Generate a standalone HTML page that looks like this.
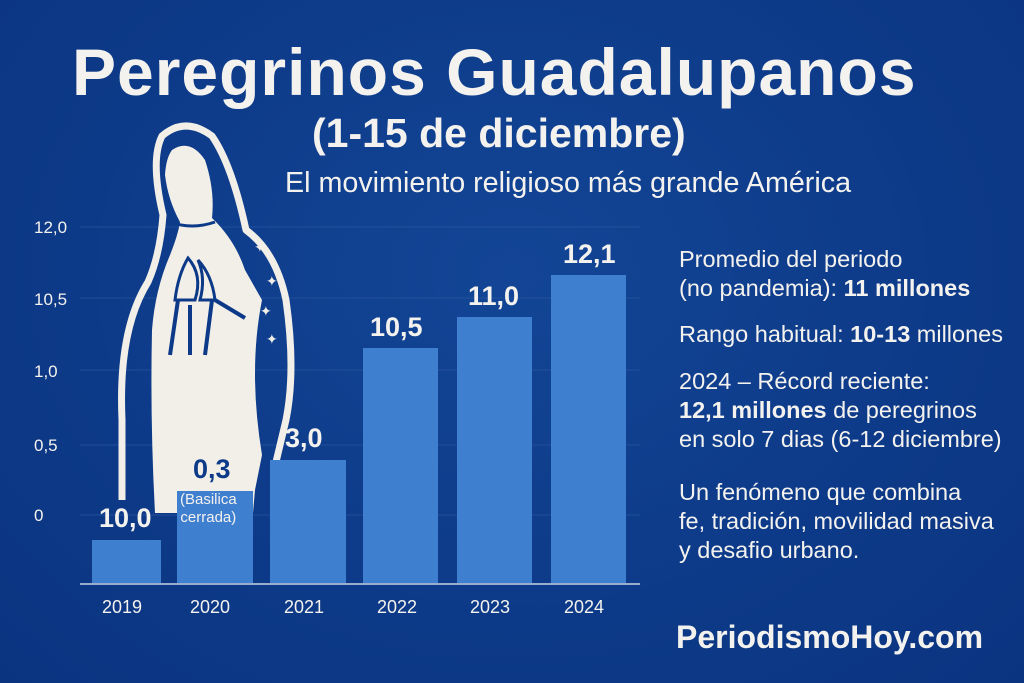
<!DOCTYPE html>
<html><head><meta charset="utf-8"><style>
body{margin:0;width:1024px;height:683px;overflow:hidden;background:#0d3a88;font-family:"Liberation Sans","DejaVu Sans",sans-serif;color:#f4f2ee}
.a{position:absolute;white-space:nowrap}
</style></head><body>
<div style="position:relative;width:1024px;height:683px;background:radial-gradient(ellipse at 50% 40%,#134596 0%,#0d3a88 60%,#0b3480 100%)">
<svg width="1024" height="683" style="position:absolute;left:0;top:0">
 <g stroke="#2a56a0" stroke-width="1" opacity="0.7">
  <line x1="80" y1="227" x2="640" y2="227"/><line x1="80" y1="298" x2="640" y2="298"/>
  <line x1="80" y1="370" x2="640" y2="370"/><line x1="80" y1="445" x2="640" y2="445"/>
  <line x1="80" y1="515" x2="640" y2="515"/>
 </g>
 <path d="M122 500 L122 420 Q118 330 148 282 Q160 255 163 215 Q150 160 162 136 Q185 116 212 136 Q232 165 246 230 Q276 252 286 300 Q296 370 286 420 L276 462" fill="none" stroke="#f2efe8" stroke-width="7" stroke-linejoin="round"/>
 <path d="M172 150 Q190 138 205 160 Q215 190 212 218 Q235 240 245 270 L262 300 Q248 370 262 455 L255 490 L253 513 L155 513 Q150 420 152 330 Q155 290 170 255 Q178 235 180 222 Q168 200 165 175 Q166 158 172 150 Z" fill="#f2efe8"/>
 <path d="M170 222 Q192 230 215 222" stroke="#0d3a88" stroke-width="3" fill="none"/>
 <path d="M188 258 Q178 275 175 300 L195 300 Q203 275 188 258 Z M198 260 Q206 278 200 300 L215 300 Q212 275 198 260Z" fill="none" stroke="#0d3a88" stroke-width="3"/>
 <path d="M178 300 L170 355 M212 300 L205 355 M190 305 L190 355 M215 300 L245 318" stroke="#0d3a88" stroke-width="4" fill="none"/>
 <g fill="#f2efe8" font-size="14"><text x="254" y="252">✦</text><text x="266" y="286">✦</text><text x="260" y="316">✦</text><text x="266" y="344">✦</text></g>
 <g fill="#3f7fd0">
  <rect x="92" y="540" width="69" height="43"/>
  <rect x="177" y="491" width="76" height="92"/>
  <rect x="270" y="460" width="76" height="123"/>
  <rect x="363" y="348" width="75" height="235"/>
  <rect x="457" y="317" width="75" height="266"/>
  <rect x="551" y="275" width="75" height="308"/>
 </g>
 <line x1="80" y1="584" x2="640" y2="584" stroke="#c9d3e6" stroke-width="1.5"/>
</svg>
<div class="a" style="left:72px;top:34px;font-size:66px;font-weight:bold;letter-spacing:1px">Peregrinos Guadalupanos</div>
<div class="a" style="left:312px;top:110px;font-size:41px;font-weight:bold">(1-15 de diciembre)</div>
<div class="a" style="left:285px;top:167px;font-size:28.7px">El movimiento religioso más grande América</div>
<div class="a" style="left:34px;top:218px;font-size:17px">12,0</div>
<div class="a" style="left:34px;top:290px;font-size:17px">10,5</div>
<div class="a" style="left:34px;top:362px;font-size:17px">1,0</div>
<div class="a" style="left:34px;top:436px;font-size:17px">0,5</div>
<div class="a" style="left:34px;top:506px;font-size:17px">0</div>
<div class="a" style="left:99px;top:503px;font-size:27px;font-weight:bold">10,0</div>
<div class="a" style="left:193px;top:454px;font-size:27px;font-weight:bold;color:#0d3a88">0,3</div>
<div class="a" style="left:180px;top:491px;font-size:15px;line-height:18px;text-align:center">(Basilica<br>cerrada)</div>
<div class="a" style="left:285px;top:423px;font-size:27px;font-weight:bold">3,0</div>
<div class="a" style="left:370px;top:312px;font-size:27px;font-weight:bold">10,5</div>
<div class="a" style="left:468px;top:281px;font-size:27px;font-weight:bold">11,0</div>
<div class="a" style="left:563px;top:239px;font-size:27px;font-weight:bold">12,1</div>
<div class="a" style="left:102px;top:597px;font-size:18px">2019</div>
<div class="a" style="left:190px;top:597px;font-size:18px">2020</div>
<div class="a" style="left:284px;top:597px;font-size:18px">2021</div>
<div class="a" style="left:377px;top:597px;font-size:18px">2022</div>
<div class="a" style="left:470px;top:597px;font-size:18px">2023</div>
<div class="a" style="left:564px;top:597px;font-size:18px">2024</div>
<div class="a" style="left:679px;top:245px;font-size:23.5px;line-height:29px">Promedio del periodo<br>(no pandemia): <b>11 millones</b></div>
<div class="a" style="left:679px;top:320px;font-size:23.5px;line-height:29px">Rango habitual: <b>10-13</b> millones</div>
<div class="a" style="left:679px;top:367px;font-size:23.5px;line-height:29px">2024 – Récord reciente:<br><b>12,1 millones</b> de peregrinos<br>en solo 7 dias (6-12 diciembre)</div>
<div class="a" style="left:679px;top:478px;font-size:23.5px;line-height:29px">Un fenómeno que combina<br>fe, tradición, movilidad masiva<br>y desafio urbano.</div>
<div class="a" style="left:676px;top:619px;font-size:32px;font-weight:bold">PeriodismoHoy.com</div>
</div>
</body></html>
